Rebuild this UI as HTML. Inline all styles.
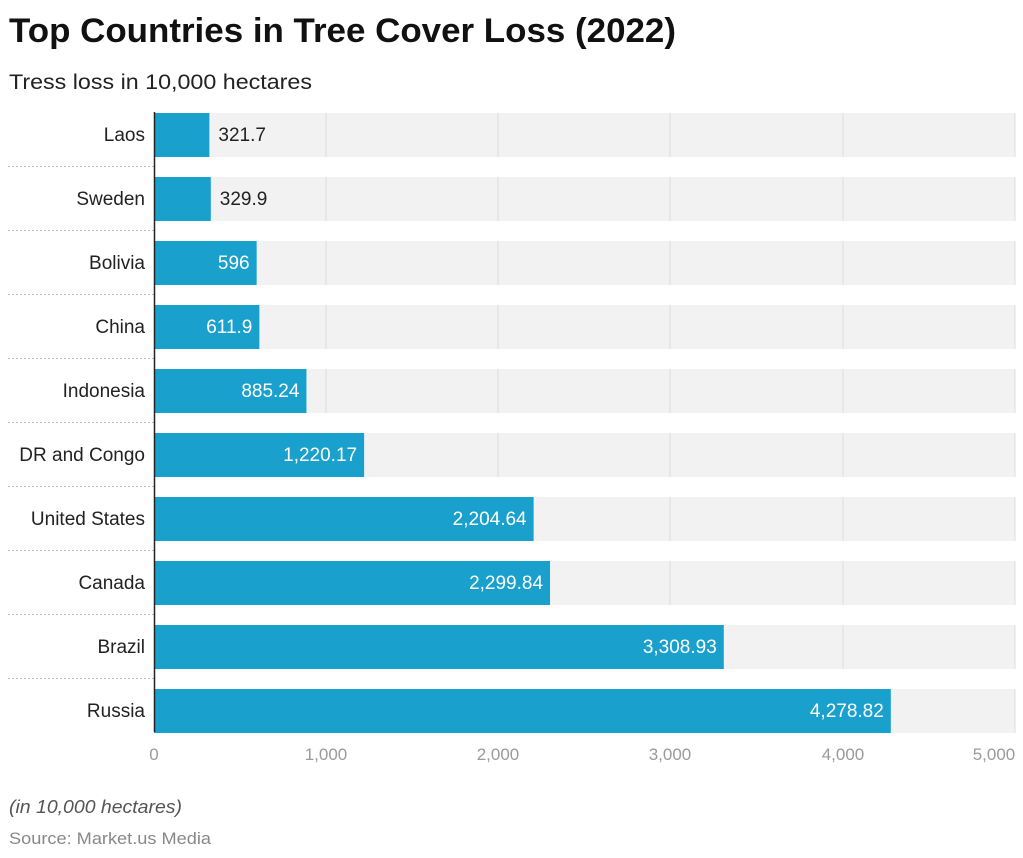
<!DOCTYPE html>
<html><head><meta charset="utf-8"><style>
body{margin:0;background:#fff;width:1023px;height:858px;overflow:hidden}
svg{display:block;font-family:"Liberation Sans",Arial,sans-serif}
</style></head><body>
<svg width="1023" height="858" viewBox="0 0 1023 858" xmlns="http://www.w3.org/2000/svg">
<text x="9" y="42" font-size="34" font-weight="bold" fill="#111" textLength="667" lengthAdjust="spacingAndGlyphs">Top Countries in Tree Cover Loss (2022)</text>
<text x="9" y="89" font-size="21" fill="#222" textLength="303" lengthAdjust="spacingAndGlyphs">Tress loss in 10,000 hectares</text>
<g id="rows"></g>
<line x1="154.5" y1="112" x2="154.5" y2="732" stroke="#222" stroke-width="1.5"/>
<g font-size="17" fill="#9a9a9a" text-anchor="middle">
<text x="154" y="760">0</text><text x="326" y="760">1,000</text><text x="498" y="760">2,000</text><text x="670" y="760">3,000</text><text x="843" y="760">4,000</text><text x="994" y="760">5,000</text>
</g>
<text x="9" y="813" font-size="18" font-style="italic" fill="#555" textLength="173" lengthAdjust="spacingAndGlyphs">(in 10,000 hectares)</text>
<text x="9" y="844" font-size="17" fill="#888" textLength="202" lengthAdjust="spacingAndGlyphs">Source: Market.us Media</text>
</svg>
<script>
const d=[["Laos",321.7,"321.7"],["Sweden",329.9,"329.9"],["Bolivia",596,"596"],["China",611.9,"611.9"],["Indonesia",885.24,"885.24"],["DR and Congo",1220.17,"1,220.17"],["United States",2204.64,"2,204.64"],["Canada",2299.84,"2,299.84"],["Brazil",3308.93,"3,308.93"],["Russia",4278.82,"4,278.82"]];
let s="";const sc=(1015-154)/5000;
d.forEach((r,i)=>{const y=113+i*64,w=r[1]*sc;
s+=`<rect x="154" y="${y}" width="861" height="44" fill="#f2f2f2"/>`;
[326,498,670,843,1015].forEach(x=>s+=`<line x1="${x}" y1="${y}" x2="${x}" y2="${y+44}" stroke="#dcdcdc"/>`);
s+=`<rect x="154" y="${y}" width="${w}" height="44" fill="#19a0cc"/>`;
s+=`<text x="145" y="${y+28}" font-size="19" fill="#222" text-anchor="end">${r[0]}</text>`;
if(w<70)s+=`<text x="${154+w+9}" y="${y+28}" font-size="19" fill="#222">${r[2]}</text>`;
else s+=`<text x="${154+w-7}" y="${y+28}" font-size="19" fill="#fff" text-anchor="end">${r[2]}</text>`;
if(i<9)s+=`<line x1="8" y1="${y+53.5}" x2="154" y2="${y+53.5}" stroke="#bbb" stroke-dasharray="2,2"/>`;
});
document.getElementById("rows").innerHTML=s;
</script>
</body></html>
